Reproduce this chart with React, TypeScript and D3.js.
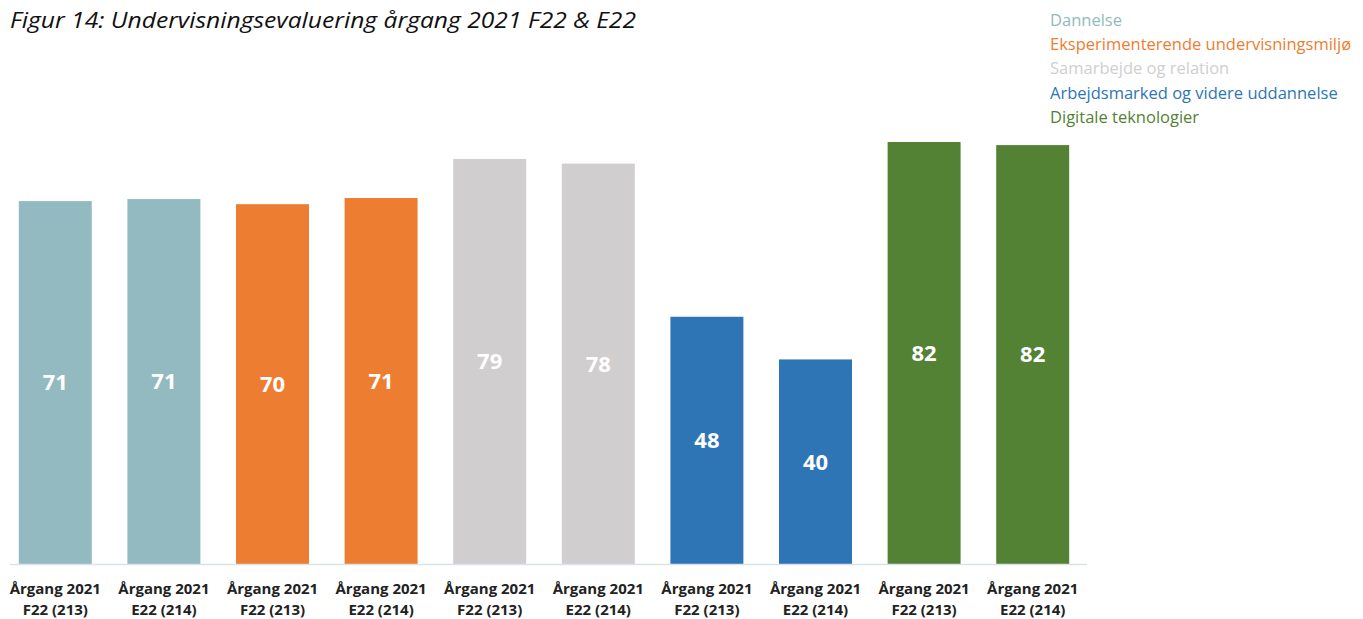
import React, { useEffect, useRef } from "react";
import * as d3 from "d3";

const title = "Figur 14: Undervisningsevaluering årgang 2021 F22 & E22";

const categories = [
  "Årgang 2021|F22 (213)",
  "Årgang 2021|E22 (214)",
  "Årgang 2021|F22 (213)",
  "Årgang 2021|E22 (214)",
  "Årgang 2021|F22 (213)",
  "Årgang 2021|E22 (214)",
  "Årgang 2021|F22 (213)",
  "Årgang 2021|E22 (214)",
  "Årgang 2021|F22 (213)",
  "Årgang 2021|E22 (214)",
];
const values = [70.6, 71.0, 70.0, 71.2, 78.8, 77.9, 48.1, 39.8, 82.1, 81.5];
const labels = ["71", "71", "70", "71", "79", "78", "48", "40", "82", "82"];
const groupOf = [0, 0, 1, 1, 2, 2, 3, 3, 4, 4];

const groups = [
  "Dannelse",
  "Eksperimenterende undervisningsmiljø",
  "Samarbejde og relation",
  "Arbejdsmarked og videre uddannelse",
  "Digitale teknologier",
];
const barColors = ["#92BAC0", "#ED7D31", "#D0CECE", "#2E75B6", "#548235"];

export default function App() {
  const ref = useRef<SVGSVGElement>(null);

  useEffect(() => {
    const svg = d3.select(ref.current);
    svg.selectAll("*").remove();

    const baseY = 564;

    const x = d3
      .scaleBand()
      .domain(categories.map((_, i) => String(i)))
      .range([1, 1087])
      .paddingInner(0.328)
      .paddingOuter(0.164);

    // roughly 5.14px per point
    const y = d3.scaleLinear().domain([0, 100]).range([baseY, baseY - 514]);

    // title
    svg
      .append("text")
      .attr("x", 10)
      .attr("y", 28)
      .attr("font-family", "Open Sans, sans-serif")
      .attr("font-style", "italic")
      .attr("font-size", 22)
      .attr("textLength", 626)
      .attr("lengthAdjust", "spacingAndGlyphs")
      .attr("fill", "#111")
      .text(title);

    // legend
    svg
      .append("g")
      .selectAll("text")
      .data(groups)
      .join("text")
      .attr("x", 1050)
      .attr("y", (_, i) => 26 + i * 24.2)
      .attr("font-family", "Open Sans, sans-serif")
      .attr("font-size", 16.5)
      .attr("fill", (_, i) => barColors[i])
      .text((d) => d);

    // bars
    svg
      .append("g")
      .selectAll("rect")
      .data(values)
      .join("rect")
      .attr("x", (_, i) => x(String(i))!)
      .attr("y", (d) => y(d))
      .attr("width", x.bandwidth())
      .attr("height", (d) => baseY - y(d))
      .attr("fill", (_, i) => barColors[groupOf[i]]);

    // value labels centered inside bars
    svg
      .append("g")
      .selectAll("text")
      .data(values)
      .join("text")
      .attr("x", (_, i) => x(String(i))! + x.bandwidth() / 2)
      .attr("y", (d) => (y(d) + baseY) / 2)
      .attr("dy", "0.36em")
      .attr("text-anchor", "middle")
      .attr("font-family", "Open Sans, sans-serif")
      .attr("font-weight", "bold")
      .attr("font-size", 22)
      .attr("fill", "#FFFFFF")
      .text((_, i) => labels[i]);

    // baseline
    svg
      .append("line")
      .attr("x1", 10)
      .attr("x2", 1087)
      .attr("y1", baseY + 0.5)
      .attr("y2", baseY + 0.5)
      .attr("stroke", "#D9E1EA")
      .attr("stroke-width", 1.5);

    // category labels
    const cat = svg
      .append("g")
      .selectAll("text")
      .data(categories)
      .join("text")
      .attr("text-anchor", "middle")
      .attr("font-family", "Open Sans, sans-serif")
      .attr("font-weight", "bold")
      .attr("font-size", 15)
      .attr("fill", "#222");
    cat.each(function (d, i) {
      const cx = x(String(i))! + x.bandwidth() / 2;
      d.split("|").forEach((p, j) => {
        d3.select(this)
          .append("tspan")
          .attr("x", cx)
          .attr("y", 594 + j * 21)
          .text(p);
      });
    });
  }, []);

  return (
    <svg
      ref={ref}
      width={1363}
      height={619}
      style={{ position: "absolute", left: 0, top: 0, background: "#fff" }}
    />
  );
}
